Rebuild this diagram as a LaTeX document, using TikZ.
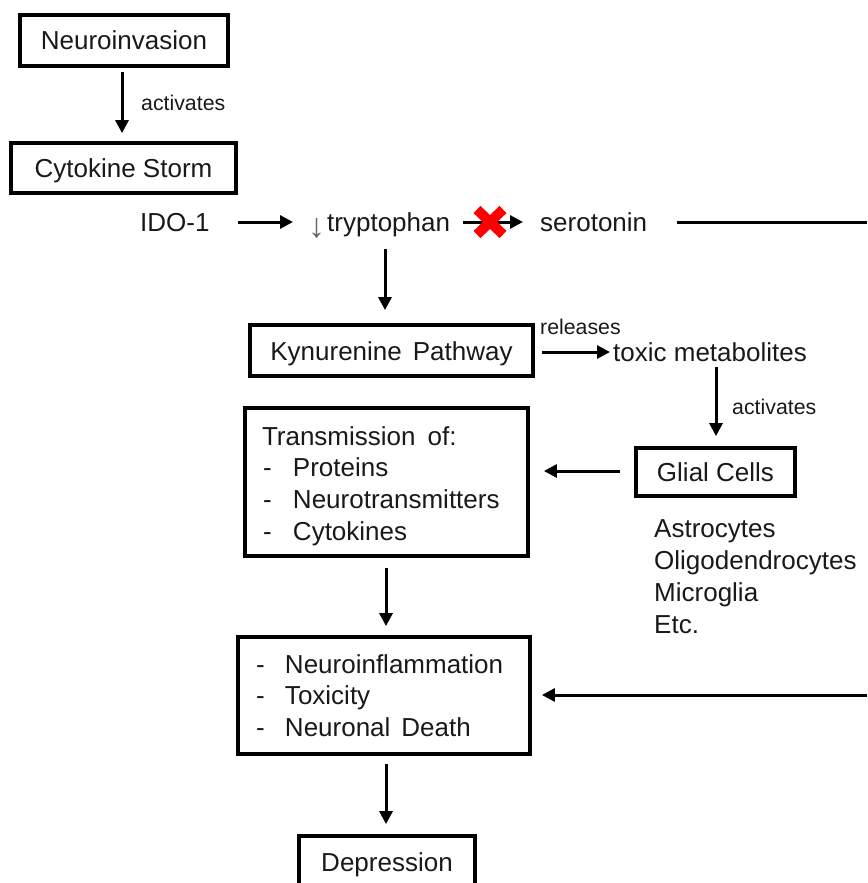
\documentclass[tikz,border=0pt]{standalone}
\usepackage{fontspec}
\setmainfont{Liberation Sans}
\usetikzlibrary{arrows.meta}
\begin{document}
\begin{tikzpicture}[x=1pt,y=-1pt,
  box/.style={draw=black,line width=3.8pt,inner sep=0pt,align=center,text=black!90,font=\fontsize{26}{31.7}\selectfont},
  one/.style={text height=19pt,text depth=0pt},
  lbl/.style={inner sep=0pt,font=\fontsize{26}{32.3}\selectfont,text=black!90},
  small/.style={inner sep=0pt,font=\fontsize{21.3}{24}\selectfont,text=black!90},
  arr/.style={line width=3pt,-{Triangle[length=13pt,width=13pt]}},
  plain/.style={line width=3pt}]
\useasboundingbox (0,0) rectangle (867,883);
\clip (0,0) rectangle (867,883);
% boxes
\node[box,one,minimum width=208pt,minimum height=51pt] (neuro) at (124,40.5) {Neuroinvasion};
\node[box,one,minimum width=225pt,minimum height=50pt] (cyto) at (123.5,168) {Cytokine Storm};
\node[box,one,minimum width=283pt,minimum height=51pt] (kyn) at (391.5,350.5) {Kynurenine\hspace{11pt}Pathway};
\node[box,one,minimum width=159pt,minimum height=48pt] (glial) at (715.5,472) {Glial Cells};
\node[box,minimum width=283pt,minimum height=148pt,text width=249pt,align=left] (trans) at (386.5,482)
  {\rule{0pt}{27pt}Transmission\hspace{12pt}of:\\\makebox[31pt][l]{\hspace{1pt}-}Proteins\\\makebox[31pt][l]{\hspace{1pt}-}Neurotransmitters\\\makebox[31pt][l]{\hspace{1pt}-}Cytokines};
\node[box,minimum width=292pt,minimum height=117pt,text width=256pt,align=left] (inflam) at (384,695.5)
  {\makebox[29pt][l]{-}Neuroinflammation\\\makebox[29pt][l]{-}Toxicity\\\makebox[29pt][l]{-}Neuronal\hspace{11pt}Death};
\node[box,one,minimum width=176pt,minimum height=52pt] (dep) at (387,862) {Depression};
% text nodes
\node[lbl,anchor=base west] (ido) at (140,231) {IDO-1};
\node[lbl,anchor=base west] (tryp) at (308,231) {\raisebox{-6pt}{\fontsize{34}{34}\selectfont\color{black!60}↓}\hspace{2pt}tryptophan};
\node[lbl,anchor=base west] (sero) at (540,231) {serotonin};
\node[lbl,anchor=base west] (toxic) at (613,361) {toxic metabolites};
\node[lbl,align=left,anchor=north west] (cells) at (654,519) {Astrocytes\\Oligodendrocytes\\Microglia\\Etc.};
\node[small,anchor=west] (act1) at (141,103) {activates};
\node[small,anchor=west] (rel) at (540,327) {releases};
\node[small,anchor=west] (act2) at (732,407) {activates};
% right edge coordinates
\coordinate (edgeA) at (867,222);
\coordinate (edgeB) at (867,695);
% connectors
\draw[arr,shorten <=4pt,shorten >=8pt] (neuro.south -| 122,0) -- (cyto.north -| 122,0);
\draw[arr,shorten <=28pt,shorten >=15pt] (ido.east |- 0,222) -- (tryp.west |- 0,222);
\draw[arr,shorten <=13pt,shorten >=17pt] (tryp.east |- 0,222) -- (sero.west |- 0,222);
\draw[plain,shorten <=30pt] (sero.east |- edgeA) -- (edgeA);
\draw[arr,shorten <=13pt,shorten >=13pt] (385,236) -- (kyn.north -| 385,0);
\draw[arr,shorten <=7pt,shorten >=3pt] (kyn.east |- 0,352) -- (toxic.west |- 0,352);
\draw[arr,shorten <=6pt,shorten >=10pt] (toxic.south -| 716,0) -- (glial.north -| 716,0);
\draw[arr,shorten <=14pt,shorten >=14pt] (glial.west |- 0,471) -- (trans.east |- 0,471);
\draw[arr,shorten <=10pt,shorten >=9pt] (trans.south -| 386,0) -- (inflam.north -| 386,0);
\draw[arr,shorten >=10pt] (edgeB) -- (inflam.east |- edgeB);
\draw[arr,shorten <=8pt,shorten >=10pt] (inflam.south -| 386,0) -- (dep.north -| 386,0);
% red cross
\draw[red,line width=10pt] (477,209.5) -- (503,234.5);
\draw[red,line width=10pt] (477,234.5) -- (503,209.5);
\end{tikzpicture}
\end{document}
